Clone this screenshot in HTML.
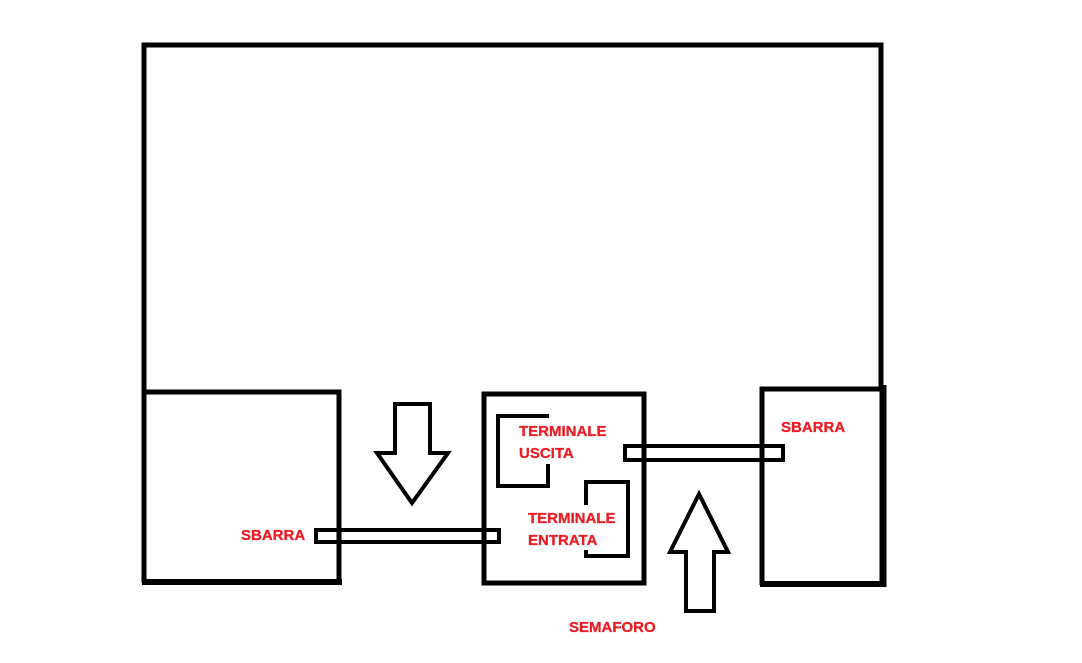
<!DOCTYPE html>
<html><head><style>html,body{margin:0;padding:0;background:#fff;}svg{display:block}</style></head>
<body>
<svg width="1082" height="663" viewBox="0 0 1082 663" xmlns="http://www.w3.org/2000/svg">
<g fill="none" stroke="#000" stroke-width="5">
<polyline points="144,390 144,45 881,45 881,390"/>
<polyline points="144,392 339,392 339,583"/>
<line x1="144" y1="390" x2="144" y2="583"/>
<line x1="142" y1="582" x2="342" y2="582" stroke-width="6"/>
<rect x="484" y="394" width="160" height="189"/>
<polyline points="762,585 762,389 882,389"/>
<line x1="760" y1="584" x2="886" y2="584" stroke-width="6"/>
<line x1="883" y1="385" x2="883" y2="587" stroke-width="7"/>
<polyline points="549,416 498,416 498,486 548,486 548,464" stroke-width="4"/>
<polyline points="586,505 586,482 628,482 628,556 586,556 586,550" stroke-width="4"/>
<rect x="316" y="530" width="183" height="12" stroke-width="4"/>
<rect x="625" y="446" width="158" height="14" stroke-width="4"/>
<polygon points="395,404 430,404 430,453 448,453 412,503 377,453 395,453" stroke-width="4" stroke-linejoin="miter"/>
<polygon points="699,494 728,552 714,552 714,611 686,611 686,552 670,552" stroke-width="4"/>
</g>
<g fill="#ed1c24" stroke="#ed1c24" stroke-width="0.3" font-family="Liberation Sans, sans-serif" font-weight="bold" font-size="15">
<text x="241" y="540">SBARRA</text>
<text x="519" y="436">TERMINALE</text>
<text x="519" y="458">USCITA</text>
<text x="528" y="523">TERMINALE</text>
<text x="528" y="545">ENTRATA</text>
<text x="781" y="432">SBARRA</text>
<text x="569" y="632">SEMAFORO</text>
</g>
</svg>
</body></html>
